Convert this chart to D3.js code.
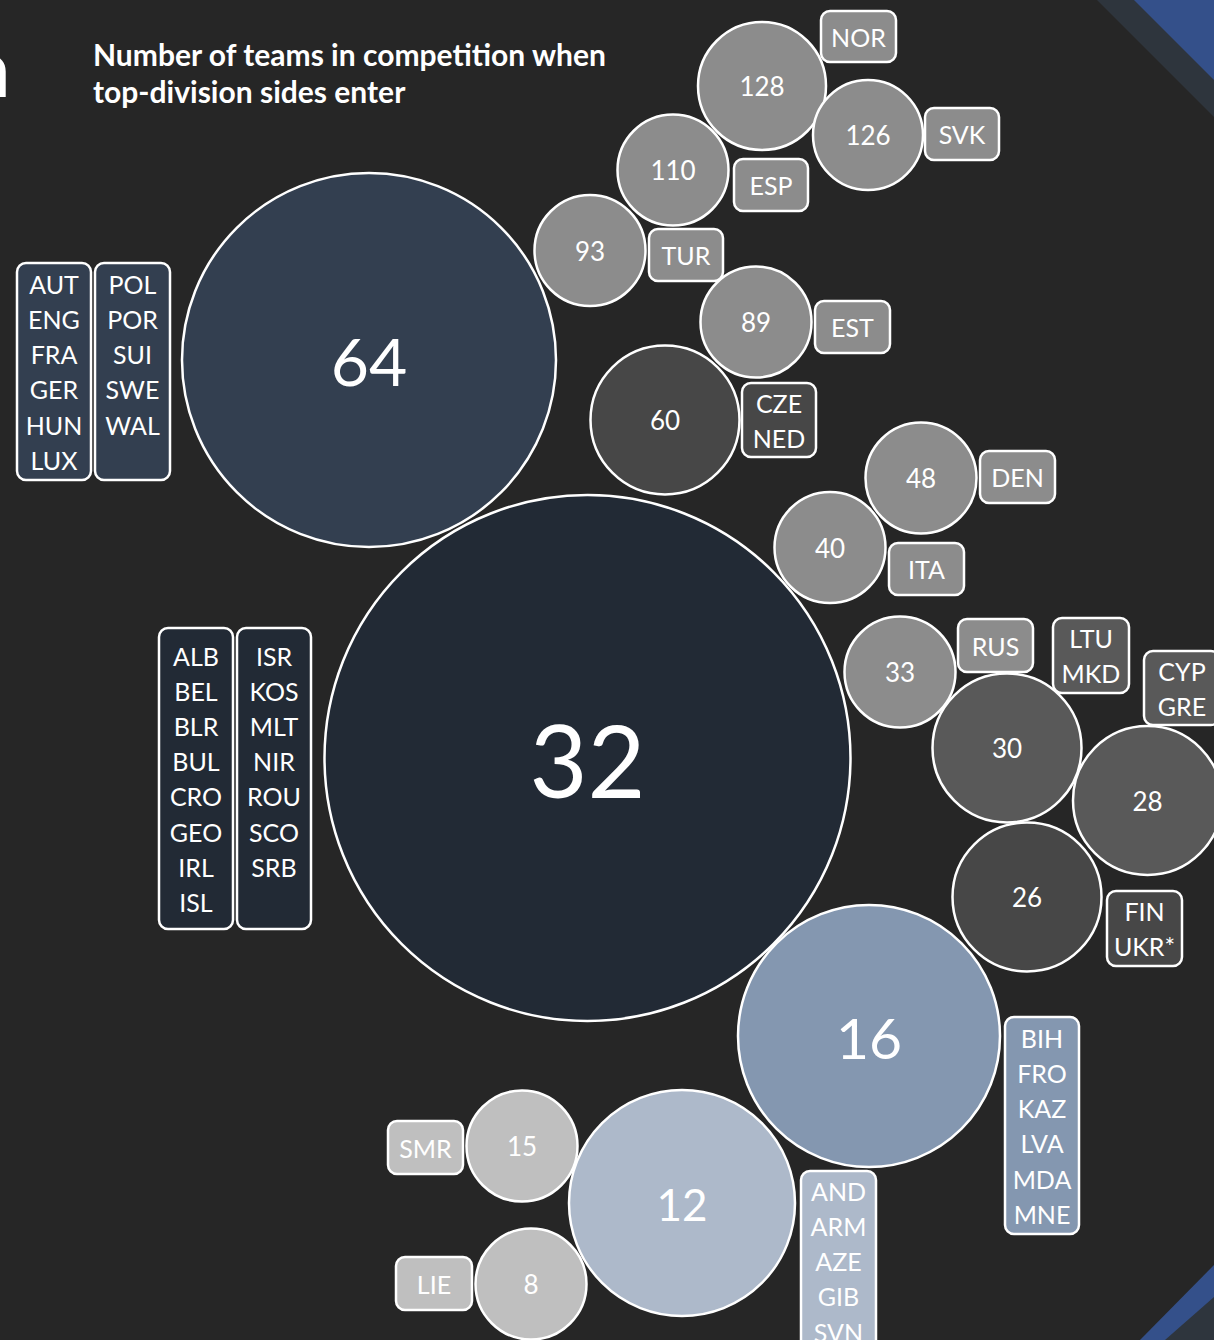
<!DOCTYPE html>
<html>
<head>
<meta charset="utf-8">
<script src="https://cdn.jsdelivr.net/npm/d3@7"></script>
<style>
  html, body { margin: 0; padding: 0; background: #262626; }
  svg { display: block; }
  text { font-family: Lato, "Open Sans", "DejaVu Sans", sans-serif; fill: #ffffff; }
</style>
</head>
<body>
<svg id="chart" width="1214" height="1340"></svg>
<script>
// ---------------- DATA ----------------
const titleLines = ["Number of teams in competition when", "top-division sides enter"];

// number of teams in competition when top-division sides enter
const entryValues = [64, 32, 16, 12, 128, 126, 110, 93, 89, 60, 48, 40, 33, 30, 28, 26, 15, 8];

// associations whose top-division clubs enter at that stage
const countries = [
  ["AUT", "ENG", "FRA", "GER", "HUN", "LUX", "POL", "POR", "SUI", "SWE", "WAL"],
  ["ALB", "BEL", "BLR", "BUL", "CRO", "GEO", "IRL", "ISL", "ISR", "KOS", "MLT", "NIR", "ROU", "SCO", "SRB"],
  ["BIH", "FRO", "KAZ", "LVA", "MDA", "MNE"],
  ["AND", "ARM", "AZE", "GIB", "SVN"],
  ["NOR"],
  ["SVK"],
  ["ESP"],
  ["TUR"],
  ["EST"],
  ["CZE", "NED"],
  ["DEN"],
  ["ITA"],
  ["RUS"],
  ["LTU", "MKD"],
  ["CYP", "GRE"],
  ["FIN", "UKR*"],
  ["SMR"],
  ["LIE"]
];

// ---------------- LAYOUT (hand-packed bubble arrangement, chart units) ----------------
const bubbleLayout = [
  [369, 360, 187], [587.5, 758, 263], [869, 1036, 131], [682, 1203, 113],
  [762, 86, 64], [868, 135, 55], [673, 170, 55.5], [590, 250.5, 55.5], [756, 322, 55.5],
  [665, 420, 74.5], [921, 478, 55.5], [830, 547.5, 55.5], [900, 672, 55.5],
  [1007, 748, 74.5], [1147.5, 800.5, 74.5], [1027, 897, 74.5], [522, 1146, 55.5], [531, 1284, 55.5]
];
// label boxes per bubble: [x, y, w, h]
const boxLayout = [
  [[17, 263, 74, 217], [95, 263, 75, 217]],
  [[159, 628, 74, 301], [237, 628, 74, 301]],
  [[1005, 1017, 74, 217]],
  [[801, 1171, 75, 180]],
  [[821, 11, 75, 51]],
  [[925, 108, 74, 52]],
  [[734, 159, 74, 52]],
  [[649, 229, 74, 52]],
  [[815, 301, 75, 52]],
  [[742, 383, 74, 74]],
  [[980, 451, 75, 52]],
  [[889, 543, 75, 52]],
  [[958, 619, 75, 53]],
  [[1053, 618, 76, 75]],
  [[1144, 651, 76, 74]],
  [[1107, 891, 75, 75]],
  [[388, 1121, 75, 53]],
  [[396, 1257, 76, 53]]
];

// ---------------- STYLE ----------------
const fills = [
  "#333f50", "#222a35", "#8497b0", "#adb9ca",
  "#8c8c8c", "#8c8c8c", "#8c8c8c", "#8c8c8c", "#8c8c8c",
  "#474747", "#8c8c8c", "#8c8c8c", "#8c8c8c",
  "#595959", "#595959", "#474747", "#bfbfbf", "#bfbfbf"
];
const numberSizes = [66, 100, 57, 44, 26, 26, 26, 26, 26, 26, 26, 26, 26, 26, 26, 26, 26, 26];
const labelSize = 25;
const lineGap = 35.2;

// ---------------- DRAW ----------------
const W = 1214, H = 1340;
const svg = d3.select("#chart");
const x = d3.scaleLinear().domain([0, 1214]).range([0, W]);
const y = d3.scaleLinear().domain([0, 1340]).range([0, H]);
const r = d3.scaleLinear().domain([0, 1214]).range([0, W]);

// decorative corner stripes
const corners = [
  { pts: [[1097, 0], [1214, 0], [1214, 117]], fill: "#2e353d" },
  { pts: [[1134, 0], [1214, 0], [1214, 80]], fill: "#34508a" },
  { pts: [[1140, 1340], [1214, 1265], [1214, 1340]], fill: "#34508a" },
  { pts: [[1165, 1340], [1214, 1297], [1214, 1340]], fill: "#2e353d" }
];
svg.selectAll("polygon.corner").data(corners).join("polygon")
  .attr("class", "corner")
  .attr("points", d => d.pts.map(p => [x(p[0]), y(p[1])].join(",")).join(" "))
  .attr("fill", d => d.fill);

// cut-off slide title glyph at left edge
svg.append("text")
  .attr("x", x(11)).attr("y", y(97))
  .attr("text-anchor", "end")
  .style("font-size", "80px")
  .text("n");

// chart title
const title = svg.append("g");
const tl = title.selectAll("text").data(titleLines).join("text")
  .attr("x", x(93))
  .attr("y", (d, i) => y(66 + i * 37))
  .style("font-weight", "bold")
  .style("font-size", "26px")
  .text(d => d);
const w0 = tl.nodes()[0].getComputedTextLength();
tl.style("font-size", (26 * 513 / w0).toFixed(2) + "px");

const groups = entryValues.map((v, i) => ({
  value: v,
  countries: countries[i],
  cx: bubbleLayout[i][0], cy: bubbleLayout[i][1], rad: bubbleLayout[i][2],
  boxes: boxLayout[i],
  fill: fills[i],
  nsize: numberSizes[i]
}));

// label boxes
const boxData = [];
groups.forEach(g => {
  const per = Math.ceil(g.countries.length / g.boxes.length);
  g.boxes.forEach((b, j) => {
    boxData.push({
      b, fill: g.fill,
      names: g.countries.slice(j * per, (j + 1) * per),
      maxLines: Math.min(per, g.countries.length)
    });
  });
});

const boxG = svg.selectAll("g.box").data(boxData).join("g").attr("class", "box");
boxG.append("rect")
  .attr("x", d => x(d.b[0])).attr("y", d => y(d.b[1]))
  .attr("width", d => x(d.b[2])).attr("height", d => y(d.b[3]))
  .attr("rx", 9).attr("ry", 9)
  .attr("fill", d => d.fill)
  .attr("stroke", "#ffffff").attr("stroke-width", 2.5);
boxG.each(function (d) {
  const top = d.b[1] + (d.b[3] - (d.maxLines - 1) * lineGap) / 2;
  d3.select(this).selectAll("text").data(d.names).join("text")
    .attr("x", x(d.b[0] + d.b[2] / 2))
    .attr("y", (n, k) => y(top + k * lineGap) + labelSize * 0.41)
    .attr("text-anchor", "middle")
    .style("font-size", labelSize + "px")
    .text(n => n);
});

// bubbles
const bub = svg.selectAll("g.bubble").data(groups).join("g").attr("class", "bubble");
bub.append("circle")
  .attr("cx", d => x(d.cx)).attr("cy", d => y(d.cy)).attr("r", d => r(d.rad))
  .attr("fill", d => d.fill)
  .attr("stroke", "#ffffff").attr("stroke-width", 2.5);
bub.append("text")
  .attr("x", d => x(d.cx))
  .attr("y", d => y(d.cy) + d.nsize * 0.40)
  .attr("text-anchor", "middle")
  .style("font-size", d => d.nsize + "px")
  .text(d => d.value);
</script>
</body>
</html>
